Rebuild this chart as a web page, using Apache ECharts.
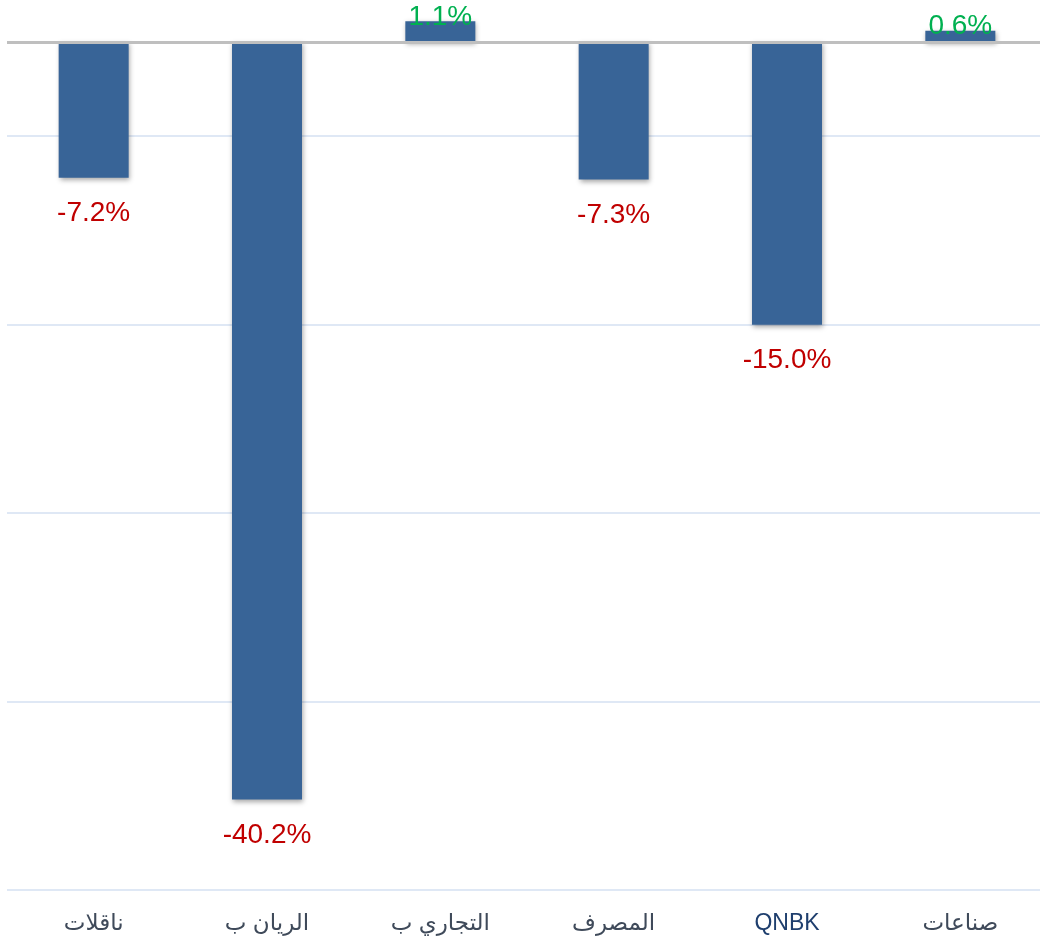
<!DOCTYPE html>
<html><head><meta charset="utf-8">
<script src="https://cdn.jsdelivr.net/npm/echarts@6/dist/echarts.min.js"></script>
<style>html,body{margin:0;padding:0;background:#fff;overflow:hidden}#c{width:1047px;height:940px}</style>
</head><body><div id="c"></div>
<script>
const categories = ['ناقلات', 'الريان ب', 'التجاري ب', 'المصرف', 'QNBK', 'صناعات'];
const changes = [-7.2, -40.2, 1.1, -7.3, -15.0, 0.6];
const axisMin = -45, axisMax = 0, gridStep = 10;

const chart = echarts.init(document.getElementById('c'));
const fontFam = "'Liberation Sans', 'DejaVu Sans', sans-serif";
const data = changes.map(v => ({
  value: v,
  label: v < 0
    ? { position: 'bottom', distance: 22, color: '#C00000' }
    : { position: 'top', distance: -10, color: '#00B050' }
}));
chart.setOption({
  animation: false,
  backgroundColor: '#fff',
  grid: { left: 7, right: 0, top: 42, bottom: 50, containLabel: false },
  xAxis: {
    type: 'category', data: categories, position: 'bottom',
    axisLine: { show: false }, axisTick: { show: false },
    axisLabel: {
      margin: 22, fontSize: 23, fontFamily: fontFam,
      color: (v) => v === 'QNBK' ? '#1F3F6E' : '#3F4A5A'
    }
  },
  yAxis: [
    { type: 'value', min: axisMin, max: axisMax, show: true,
      axisLine: { show: false }, axisTick: { show: false }, axisLabel: { show: false },
      splitLine: { show: false } },
    { type: 'value', min: 0, max: axisMax - axisMin, interval: gridStep, position: 'left',
      axisLine: { show: false }, axisTick: { show: false }, axisLabel: { show: false },
      splitLine: { show: true, lineStyle: { color: '#D5E0F2', width: 1.5 } } }
  ],
  series: [{
    type: 'bar', yAxisIndex: 0, data: data, barWidth: 70, clip: false,
    itemStyle: { color: '#386497', shadowBlur: 5, shadowColor: 'rgba(0,0,0,0.35)', shadowOffsetX: 1, shadowOffsetY: 2 },
    label: { show: true, fontSize: 28, fontFamily: fontFam, formatter: p => p.value.toFixed(1) + '%' },
    markLine: {
      silent: true, symbol: 'none', label: { show: false },
      lineStyle: { color: '#BFBFBF', width: 3, type: 'solid' },
      data: [{ yAxis: 0 }]
    }
  }]
});
</script></body></html>
